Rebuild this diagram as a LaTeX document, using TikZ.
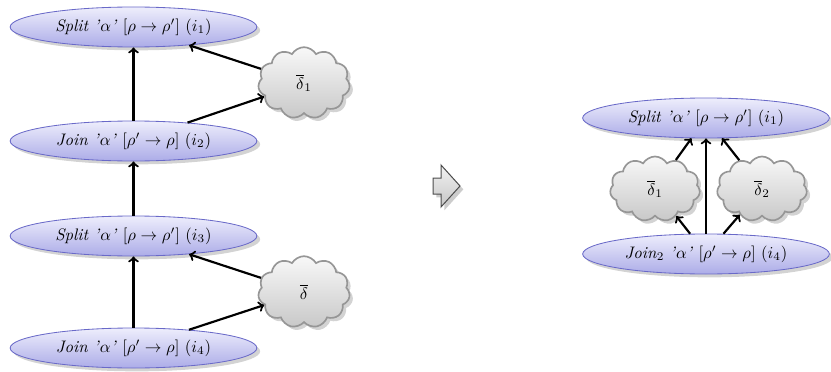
\documentclass[tikz,border=0pt]{standalone}
\usetikzlibrary{shapes.geometric,shapes.symbols,shadows}
\definecolor{elltop}{RGB}{238,238,252}
\definecolor{ellbot}{RGB}{172,172,232}
\definecolor{elldraw}{RGB}{105,105,200}
\definecolor{cloudtop}{RGB}{248,248,248}
\definecolor{cloudbot}{RGB}{200,200,200}
\definecolor{clouddraw}{RGB}{150,150,150}
\tikzset{
  instr/.style={ellipse, draw=elldraw, line width=0.5pt, top color=elltop, bottom color=ellbot,
    minimum width=148pt, minimum height=24pt, inner sep=0pt,
    drop shadow={shadow xshift=2pt, shadow yshift=-2pt, opacity=0.35, fill=gray}},
  blob/.style={cloud, cloud puffs=11, cloud puff arc=120, aspect=1.3, draw=clouddraw, line width=1pt,
    top color=cloudtop, bottom color=cloudbot, minimum width=55pt, minimum height=43pt, inner sep=0pt,
    drop shadow={shadow xshift=2pt, shadow yshift=-2pt, opacity=0.35, fill=gray}},
  conn/.style={->, line width=1.3pt, black},
}
\begin{document}
\begin{tikzpicture}[x=0.6pt, y=-0.6pt]
\useasboundingbox (0,0) rectangle (831,371);
% left column
\node[instr] (e1) at (133.5,27) {\textit{Split '}$\alpha$\textit{'} [$\rho\rightarrow\rho'$] ($i_1$)};
\node[instr] (e2) at (133.5,141) {\textit{Join '}$\alpha$\textit{'} [$\rho'\rightarrow\rho$] ($i_2$)};
\node[instr] (e3) at (133.5,236) {\textit{Split '}$\alpha$\textit{'} [$\rho\rightarrow\rho'$] ($i_3$)};
\node[instr] (e4) at (133.5,348) {\textit{Join '}$\alpha$\textit{'} [$\rho'\rightarrow\rho$] ($i_4$)};
\node[blob] (c1) at (304,83) {$\overline{\delta}_1$};
\node[blob] (c0) at (304,292) {$\overline{\delta}$};
\draw[conn] (e2) -- (e1);
\draw[conn] (c1) -- (e1);
\draw[conn] (e2) -- (c1);
\draw[conn] (e3) -- (e2);
\draw[conn] (e4) -- (e3);
\draw[conn] (c0) -- (e3);
\draw[conn] (e4) -- (c0);
% transformation arrow
\path[top color=gray!10, bottom color=gray!45, draw=gray!60!black, line width=0.6pt,
  drop shadow={shadow xshift=2pt, shadow yshift=-2pt, opacity=0.4, fill=gray}]
  (433,178) -- (441,178) -- (441,165) -- (460,186) -- (441,207) -- (441,194) -- (433,194) -- cycle;
% right column
\node[instr] (r1) at (706,118) {\textit{Split '}$\alpha$\textit{'} [$\rho\rightarrow\rho'$] ($i_1$)};
\node[instr] (r4) at (706,254) {\textit{Join}$_2$ \textit{'}$\alpha$\textit{'} [$\rho'\rightarrow\rho$] ($i_4$)};
\node[blob, minimum width=54pt, minimum height=39pt] (rc1) at (655,189) {$\overline{\delta}_1$};
\node[blob, minimum width=54pt, minimum height=39pt] (rc2) at (762,189) {$\overline{\delta}_2$};
\draw[conn] (r4) -- (r1);
\draw[conn] (rc1) -- (r1);
\draw[conn] (r4) -- (rc1);
\draw[conn] (rc2) -- (r1);
\draw[conn] (r4) -- (rc2);
\end{tikzpicture}
\end{document}
